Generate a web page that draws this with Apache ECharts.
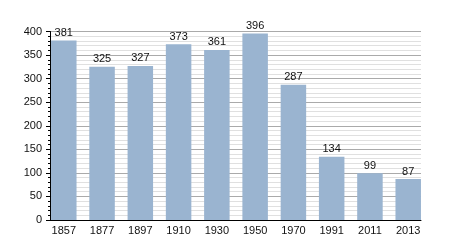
<!DOCTYPE html>
<html><head><meta charset="utf-8">
<script src="https://cdn.jsdelivr.net/npm/echarts@6/dist/echarts.min.js"></script>
<style>html,body{margin:0;padding:0;background:#fff}#c{width:450px;height:250px}</style>
</head><body><div id="c"></div>
<script>
const categories = ['1857','1877','1897','1910','1930','1950','1970','1991','2011','2013'];
const values = [381, 325, 327, 373, 361, 396, 287, 134, 99, 87];
const yTicks = [0, 50, 100, 150, 200, 250, 300, 350, 400];

const font = 'Liberation Sans, Arial, sans-serif';
const chart = echarts.init(document.getElementById('c'), null, {renderer: 'canvas'});
chart.setOption({
  animation: false,
  grid: [
    {left: 50, right: 29, top: 31.5, bottom: 30},
    {left: 44.65, right: 22.65, top: 31.5, bottom: 30}
  ],
  xAxis: [
    {type: 'category', gridIndex: 0, data: categories,
     axisLine: {show: true, lineStyle: {color: '#000', width: 1}},
     axisTick: {show: false}, axisLabel: {show: false}, splitLine: {show: false}},
    {type: 'category', gridIndex: 1, data: categories,
     axisLine: {show: false}, axisTick: {show: false},
     axisLabel: {show: true, color: '#111', fontSize: 11, fontFamily: font, margin: 5}}
  ],
  yAxis: [
    {type: 'value', gridIndex: 0, min: yTicks[0], max: yTicks[yTicks.length-1], interval: 50,
     axisLine: {show: true, lineStyle: {color: '#000', width: 1}},
     axisTick: {show: true, length: 4, lineStyle: {color: '#000'}},
     minorTick: {show: true, splitNumber: 5, length: 2, lineStyle: {color: '#000'}},
     axisLabel: {color: '#111', fontSize: 11, fontFamily: font, margin: 8},
     splitLine: {show: true, lineStyle: {color: '#aaa', width: 1}},
     minorSplitLine: {show: true, lineStyle: {color: '#e0e0e0', width: 1}}},
    {type: 'value', gridIndex: 1, min: 0, max: 400, interval: 50, show: false,
     splitLine: {show: false}}
  ],
  series: [{
    type: 'bar', xAxisIndex: 1, yAxisIndex: 1, data: values,
    barWidth: 25.5,
    itemStyle: {color: '#9ab4d0'},
    label: {show: true, position: 'top', distance: 2, color: '#111', fontSize: 11, fontFamily: font}
  }]
});
</script></body></html>
